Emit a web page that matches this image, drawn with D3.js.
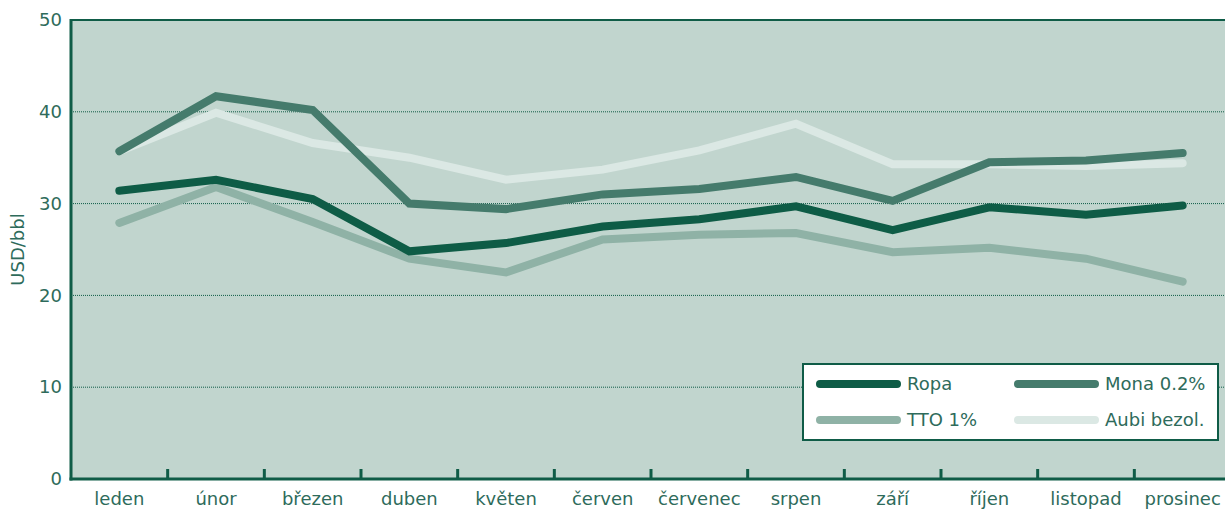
<!DOCTYPE html>
<html>
<head>
<meta charset="utf-8">
<script src="https://cdn.jsdelivr.net/npm/d3@7"></script>
<style>
  html, body { margin: 0; padding: 0; background: #fff; }
  svg { display: block; font-family: "DejaVu Sans", sans-serif; }
</style>
</head>
<body>
<svg id="chart"></svg>
<script>
// months on the x axis
const months = ["leden", "únor", "březen", "duben", "květen", "červen",
  "červenec", "srpen", "září", "říjen", "listopad", "prosinec"];

// series values (USD/bbl)
const ropa  = [31.4, 32.6, 30.5, 24.8, 25.7, 27.5, 28.3, 29.7, 27.1, 29.6, 28.8, 29.8];
const mona  = [35.7, 41.7, 40.2, 30.0, 29.4, 31.0, 31.6, 32.9, 30.3, 34.5, 34.7, 35.5];
const tto   = [27.9, 31.8, 28.0, 24.0, 22.5, 26.1, 26.6, 26.8, 24.7, 25.2, 24.0, 21.5];
const aubi  = [35.7, 39.9, 36.6, 35.0, 32.6, 33.7, 35.8, 38.7, 34.3, 34.3, 34.1, 34.4];

const yTicks = [0, 10, 20, 30, 40, 50];

const series = [
  { name: "Aubi bezol.", values: aubi, color: "#dbe8e4" },
  { name: "TTO 1%", values: tto, color: "#8fb2a6" },
  { name: "Mona 0.2%", values: mona, color: "#457b6c" },
  { name: "Ropa", values: ropa, color: "#0e5c46" }
];

const width = 1225, height = 513;
const margin = { top: 20, right: -6, bottom: 34, left: 71 };
const innerWidth = width - margin.left - margin.right;
const innerHeight = height - margin.top - margin.bottom;

const textColor = "#2e6b5b";
const axisColor = "#0f5c47";
const labelFont = "18px";

const svg = d3.select("#chart")
  .attr("width", width)
  .attr("height", height);

const g = svg.append("g")
  .attr("transform", `translate(${margin.left},${margin.top})`);

// --- scales ---
const x = d3.scaleBand()
  .domain(months)
  .range([0, innerWidth]);

const y = d3.scaleLinear()
  .domain([0, 50])
  .range([innerHeight, 0]);

// plot background
g.append("rect")
  .attr("width", innerWidth)
  .attr("height", innerHeight)
  .attr("fill", "#c1d5ce");

// dotted gridlines
g.selectAll(".grid")
  .data(yTicks.filter(t => t > 0 && t < 50))
  .join("line")
  .attr("x1", 0)
  .attr("x2", innerWidth)
  .attr("y1", d => y(d))
  .attr("y2", d => y(d))
  .attr("stroke", axisColor)
  .attr("stroke-width", 1)
  .attr("stroke-dasharray", "1,1");

// top border
g.append("line")
  .attr("x1", 0).attr("x2", innerWidth)
  .attr("y1", 0).attr("y2", 0)
  .attr("stroke", axisColor)
  .attr("stroke-width", 2);

// --- lines ---
const line = d3.line()
  .x((d, i) => x(months[i]) + x.bandwidth() / 2)
  .y(d => y(d));

series.forEach(s => {
  g.append("path")
    .datum(s.values)
    .attr("fill", "none")
    .attr("stroke", s.color)
    .attr("stroke-width", 8)
    .attr("stroke-linejoin", "miter")
    .attr("stroke-linecap", "round")
    .attr("d", line);
});

// --- axes ---
const yAxis = g.append("g")
  .call(d3.axisLeft(y).tickValues(yTicks).tickSize(0).tickPadding(9));
yAxis.select(".domain").remove();
yAxis.selectAll("text")
  .attr("fill", textColor)
  .style("font-size", labelFont)
  .style("font-family", "'DejaVu Sans', sans-serif");

g.append("line")
  .attr("x1", 0).attr("x2", 0)
  .attr("y1", -1).attr("y2", innerHeight + 1.5)
  .attr("stroke", axisColor)
  .attr("stroke-width", 3);

const xAxis = g.append("g")
  .attr("transform", `translate(0,${innerHeight})`)
  .call(d3.axisBottom(x).tickSize(0).tickPadding(13));
xAxis.select(".domain").remove();
xAxis.selectAll("text")
  .attr("fill", textColor)
  .style("font-size", labelFont)
  .style("font-family", "'DejaVu Sans', sans-serif");

// tick marks between months
g.selectAll(".sep")
  .data(months.slice(1))
  .join("line")
  .attr("x1", d => x(d))
  .attr("x2", d => x(d))
  .attr("y1", innerHeight)
  .attr("y2", innerHeight - 10)
  .attr("stroke", axisColor)
  .attr("stroke-width", 3);

g.append("line")
  .attr("x1", -1.5).attr("x2", innerWidth)
  .attr("y1", innerHeight).attr("y2", innerHeight)
  .attr("stroke", axisColor)
  .attr("stroke-width", 3);

// y axis title
svg.append("text")
  .attr("transform", `translate(24,${margin.top + y(25)}) rotate(-90)`)
  .attr("text-anchor", "middle")
  .attr("fill", textColor)
  .style("font-size", "18px")
  .text("USD/bbl");

// --- legend ---
const legend = svg.append("g")
  .attr("transform", "translate(803,364)");

legend.append("rect")
  .attr("width", 415)
  .attr("height", 76)
  .attr("fill", "#ffffff")
  .attr("stroke", axisColor)
  .attr("stroke-width", 2);

const legendOrder = [
  { s: series[3], col: 0, row: 0 },
  { s: series[2], col: 1, row: 0 },
  { s: series[1], col: 0, row: 1 },
  { s: series[0], col: 1, row: 1 }
];

legendOrder.forEach(({ s, col, row }) => {
  const lx = 17 + col * 198;
  const ly = 20 + row * 36;
  legend.append("line")
    .attr("x1", lx).attr("x2", lx + 77)
    .attr("y1", ly).attr("y2", ly)
    .attr("stroke", s.color)
    .attr("stroke-width", 8)
    .attr("stroke-linecap", "round");
  legend.append("text")
    .attr("x", lx + 87)
    .attr("y", ly)
    .attr("dy", "0.35em")
    .attr("fill", textColor)
    .style("font-size", labelFont)
    .text(s.name);
});
</script>
</body>
</html>
